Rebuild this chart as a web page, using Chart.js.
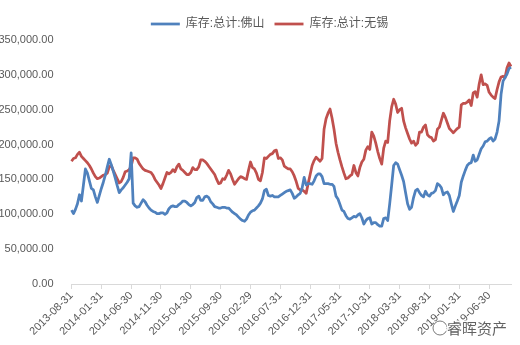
<!DOCTYPE html>
<html>
<head>
<meta charset="utf-8">
<script src="https://cdn.jsdelivr.net/npm/chart.js@4.4.1/dist/chart.umd.min.js"></script>
<style>
  html, body { margin: 0; padding: 0; background: #fff; }
</style>
</head>
<body>
<canvas id="myChart" width="520" height="345"></canvas>
<script>
// 旬度数据 (每月10日/20日/月末), 单位: 吨
const seriesNames = ['库存:总计:佛山', '库存:总计:无锡'];

const foshan = [
  106000, 101000, 107000, 115000, 128000, 119000, 142000, 165000, 159000, 148000,
  137000, 135000, 125000, 117000, 127000, 137000, 146000, 156000, 168000, 179000,
  171000, 162000, 152000, 141000, 131000, 135000, 138000, 142000, 146000, 151000,
  188000, 116000, 112000, 110000, 111000, 116000, 121000, 118000, 113000, 109000,
  106000, 104000, 103000, 101000, 101000, 102000, 102000, 100000, 102000, 108000,
  111000, 112000, 111000, 111000, 114000, 116000, 119000, 119000, 117000, 114000,
  112000, 114000, 117000, 124000, 126000, 120000, 120000, 125000, 126000, 124000,
  118000, 115000, 111000, 110000, 109000, 109000, 110000, 110000, 109000, 109000,
  106000, 103000, 101000, 99000, 96000, 93000, 91000, 90000, 93000, 99000,
  103000, 105000, 106000, 109000, 112000, 116000, 122000, 134000, 136000, 127000,
  126000, 127000, 125000, 125000, 125000, 127000, 129000, 131000, 133000, 134000,
  135000, 130000, 123000, 125000, 128000, 130000, 138000, 153000, 142000, 144000,
  144000, 143000, 148000, 155000, 158000, 158000, 154000, 144000, 144000, 144000,
  143000, 143000, 140000, 126000, 122000, 114000, 106000, 104000, 98000, 94000,
  93000, 95000, 97000, 96000, 99000, 101000, 95000, 86000, 91000, 94000,
  95000, 86000, 88000, 88000, 85000, 83000, 83000, 94000, 95000, 91000,
  115000, 142000, 170000, 174000, 172000, 164000, 156000, 147000, 131000, 115000,
  107000, 110000, 124000, 134000, 136000, 131000, 127000, 125000, 133000, 128000,
  126000, 130000, 131000, 134000, 144000, 142000, 138000, 128000, 131000, 132000,
  127000, 115000, 104000, 112000, 119000, 127000, 146000, 155000, 163000, 170000,
  173000, 174000, 185000, 176000, 178000, 186000, 194000, 198000, 204000, 205000,
  208000, 210000, 205000, 208000, 218000, 234000, 272000, 291000, 296000, 301000,
  309000, 311000
];

const wuxi = [
  176000, 180000, 181000, 186000, 189000, 183000, 180000, 177000, 174000, 170000,
  165000, 159000, 154000, 151000, 152000, 154000, 156000, 157000, 159000, 168000,
  170000, 163000, 157000, 151000, 145000, 147000, 153000, 161000, 162000, 164000,
  169000, 181000, 181000, 179000, 173000, 169000, 165000, 163000, 162000, 161000,
  160000, 156000, 150000, 146000, 142000, 137000, 144000, 152000, 160000, 158000,
  160000, 164000, 161000, 168000, 172000, 165000, 163000, 160000, 157000, 157000,
  160000, 167000, 164000, 164000, 168000, 178000, 178000, 176000, 173000, 169000,
  165000, 161000, 157000, 150000, 144000, 145000, 151000, 150000, 156000, 163000,
  158000, 150000, 143000, 147000, 151000, 154000, 153000, 151000, 150000, 163000,
  175000, 167000, 165000, 159000, 150000, 148000, 160000, 181000, 180000, 183000,
  186000, 187000, 191000, 192000, 180000, 181000, 178000, 169000, 167000, 165000,
  165000, 161000, 155000, 147000, 137000, 135000, 135000, 133000, 130000, 144000,
  157000, 170000, 177000, 182000, 179000, 176000, 180000, 222000, 237000, 245000,
  251000, 238000, 222000, 202000, 189000, 178000, 168000, 159000, 151000, 152000,
  155000, 157000, 170000, 160000, 155000, 167000, 175000, 179000, 192000, 197000,
  193000, 218000, 212000, 202000, 190000, 180000, 172000, 195000, 205000, 203000,
  234000, 254000, 265000, 258000, 246000, 250000, 252000, 234000, 224000, 216000,
  208000, 202000, 205000, 199000, 202000, 218000, 218000, 225000, 228000, 214000,
  211000, 210000, 205000, 207000, 222000, 225000, 235000, 245000, 239000, 231000,
  223000, 220000, 217000, 220000, 223000, 225000, 257000, 259000, 259000, 261000,
  264000, 256000, 274000, 276000, 268000, 287000, 300000, 286000, 287000, 285000,
  275000, 271000, 268000, 266000, 279000, 290000, 297000, 298000, 296000, 310000,
  317000, 312000
];

const yMax = 350000;
const yStep = 50000;
const labelEvery = 15;

const dates = buildDates(foshan.length, 2013, 8);

function buildDates(count, year, month) {
    // 第一个点是 2013-08-31, 之后每旬一个点
    const out = [];
    let y = year, m = month, slot = 2;
    while (out.length < count) {
        const last = new Date(y, m, 0).getDate();
        const day = [10, 20, last][slot];
        out.push(y + '-' + String(m).padStart(2, '0') + '-' + String(day).padStart(2, '0'));
        slot++;
        if (slot > 2) {
            slot = 0;
            m++;
            if (m > 12) { m = 1; y++; }
        }
    }
    return out;
}

const textColor = '#595959';
const axisColor = '#d9d9d9';

// 图例整体往右挪一点, 对齐原图
const legendShift = {
    id: 'legendShift',
    afterLayout(chart) {
        chart.legend.left += 14;
        chart.legend.right += 14;
    }
};

const watermark = {
    id: 'watermark',
    afterDraw(chart) {
        const ctx = chart.ctx;
        ctx.save();
        ctx.strokeStyle = 'rgba(90,90,90,0.8)';
        ctx.lineWidth = 1;
        ctx.beginPath();
        ctx.arc(440, 328, 7, 0, Math.PI * 2);
        ctx.stroke();
        ctx.font = '15px "Noto Sans CJK SC"';
        ctx.textBaseline = 'middle';
        ctx.lineWidth = 3;
        ctx.strokeStyle = 'rgba(255,255,255,0.9)';
        ctx.strokeText('睿晖资产', 447, 328);
        ctx.fillStyle = 'rgba(70,70,70,0.85)';
        ctx.fillText('睿晖资产', 447, 328);
        ctx.restore();
    }
};

const ctx = document.getElementById('myChart');

const chart = new Chart(ctx, {
    type: 'line',
    data: {
        labels: dates,
        datasets: [{
            label: seriesNames[0],
            data: foshan,
            borderColor: '#4F81BD',
            backgroundColor: '#4F81BD',
            borderWidth: 2.75,
            pointRadius: 0,
            tension: 0,
            borderJoinStyle: 'round'
        },
        {
            label: seriesNames[1],
            data: wuxi,
            borderColor: '#C0504D',
            backgroundColor: '#C0504D',
            borderWidth: 2.75,
            pointRadius: 0,
            tension: 0,
            borderJoinStyle: 'round'
        }]
    },
    options: {
        responsive: false,
        animation: false,
        devicePixelRatio: 1,
        layout: {
            padding: { left: 0, right: 9, top: 8, bottom: 0 }
        },
        plugins: {
            legend: {
                position: 'top',
                labels: {
                    usePointStyle: true,
                    pointStyle: 'line',
                    pointStyleWidth: 29,
                    color: textColor,
                    padding: 10,
                    font: { family: '"Liberation Sans", "Noto Sans CJK SC"', size: 12 }
                }
            },
            tooltip: { enabled: false }
        },
        scales: {
            x: {
                grid: {
                    display: true,
                    drawOnChartArea: false,
                    drawTicks: true,
                    tickLength: 5,
                    color: axisColor
                },
                border: { display: true, color: axisColor },
                ticks: {
                    autoSkip: false,
                    maxRotation: 45,
                    minRotation: 45,
                    padding: 0,
                    color: textColor,
                    font: { family: '"Liberation Sans"', size: 11 },
                    callback: function (value, index) {
                        return index % labelEvery === 0 ? dates[index] : null;
                    }
                },
                afterFit: function (scale) {
                    scale.height = 61;
                }
            },
            y: {
                min: 0,
                max: yMax,
                grid: { display: false },
                border: { display: false },
                ticks: {
                    stepSize: yStep,
                    padding: 10,
                    color: textColor,
                    font: { family: '"Liberation Sans"', size: 11 },
                    callback: function (value) {
                        return value.toLocaleString('en-US', { minimumFractionDigits: 2, maximumFractionDigits: 2 });
                    }
                },
                afterFit: function (scale) {
                    scale.width = 71.5;
                }
            }
        }
    },
    plugins: [legendShift, watermark]
});
</script>
</body>
</html>
